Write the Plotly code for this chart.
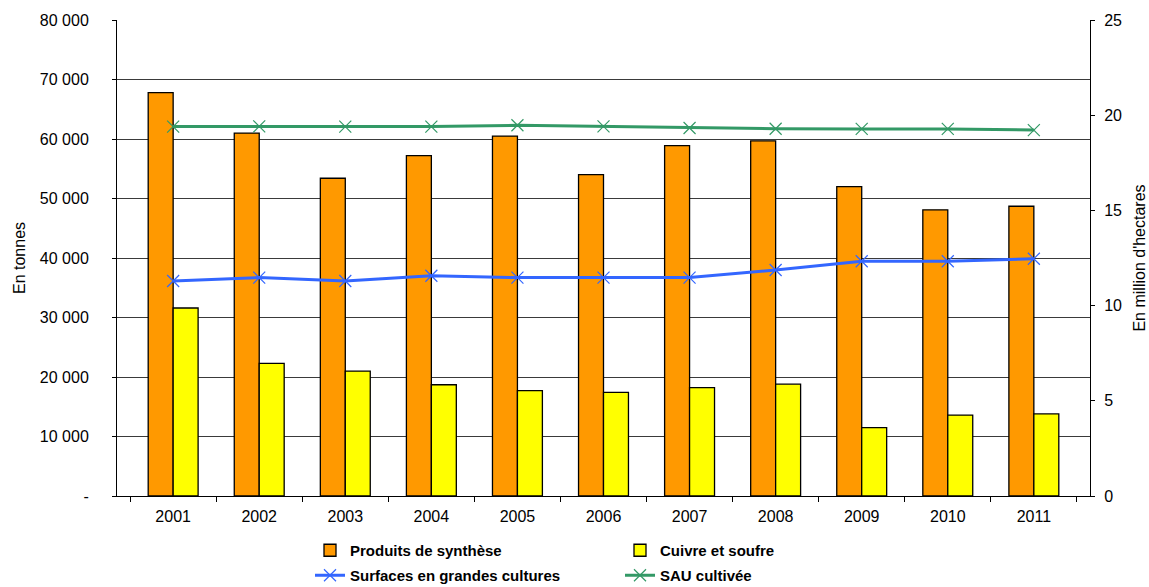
import plotly.graph_objects as go

years = ["2001", "2002", "2003", "2004", "2005", "2006", "2007", "2008", "2009", "2010", "2011"]
produits_synthese = [67800, 61000, 53400, 57200, 60500, 54000, 58900, 59700, 52000, 48100, 48700]
cuivre_soufre = [31600, 22300, 21000, 18700, 17700, 17400, 18200, 18800, 11500, 13600, 13800]
surfaces_grandes_cultures = [11.29, 11.47, 11.29, 11.57, 11.47, 11.47, 11.47, 11.87, 12.33, 12.33, 12.46]
sau_cultivee = [19.40, 19.41, 19.40, 19.40, 19.47, 19.41, 19.33, 19.29, 19.28, 19.28, 19.22]

left_tickvals = [0, 10000, 20000, 30000, 40000, 50000, 60000, 70000, 80000]
left_ticktext = ["-", "10 000", "20 000", "30 000", "40 000", "50 000", "60 000", "70 000", "80 000"]
right_tickvals = [0, 5, 10, 15, 20, 25]

FONT = "Liberation Sans, Arial, sans-serif"

fig = go.Figure()
fig.add_trace(go.Bar(x=years, y=produits_synthese, name="<b>Produits de synthèse</b>",
                     marker=dict(color="#FF9900", line=dict(color="#000000", width=1.3)),
                     legend="legend"))
fig.add_trace(go.Bar(x=years, y=cuivre_soufre, name="<b>Cuivre et soufre</b>",
                     marker=dict(color="#FFFF00", line=dict(color="#000000", width=1.3)),
                     legend="legend"))
fig.add_trace(go.Scatter(x=years, y=surfaces_grandes_cultures, name="<b>Surfaces en grandes cultures</b>",
                         yaxis="y2", mode="lines+markers",
                         line=dict(color="#3366FF", width=3),
                         marker=dict(symbol="x-thin", size=12, line=dict(color="#3366FF", width=1.2)),
                         legend="legend2"))
fig.add_trace(go.Scatter(x=years, y=sau_cultivee, name="<b>SAU cultivée</b>",
                         yaxis="y2", mode="lines+markers",
                         line=dict(color="#339966", width=3),
                         marker=dict(symbol="x-thin", size=12, line=dict(color="#339966", width=1.2)),
                         legend="legend2"))

leg_common = dict(orientation="h", xref="container", yref="container",
                  xanchor="left", yanchor="top",
                  entrywidth=265, entrywidthmode="pixels", font=dict(size=15),
                  itemwidth=30, tracegroupgap=0, bgcolor="rgba(0,0,0,0)")

fig.update_layout(
    width=1149, height=587,
    margin=dict(l=117, r=59, t=20, b=91, autoexpand=False),
    paper_bgcolor="white", plot_bgcolor="white",
    font=dict(family=FONT, size=16, color="#000000"),
    barmode="group", bargap=0.42, bargroupgap=0,
    xaxis=dict(type="category", showline=True, linecolor="#000000", linewidth=1,
               ticks="outside", tickson="boundaries", ticklen=5, tickcolor="#000000",
               showgrid=False, tickfont=dict(size=16), ticklabelstandoff=6),
    yaxis=dict(range=[0, 80000], tickvals=left_tickvals, ticktext=left_ticktext,
               showline=True, linecolor="#000000", linewidth=1,
               ticks="outside", ticklen=4, tickcolor="#000000",
               showgrid=True, gridcolor="#3a3a3a", gridwidth=1, zeroline=False,
               tickfont=dict(size=16), ticklabelstandoff=20,
               title=dict(text="En tonnes", font=dict(size=16), standoff=10)),
    yaxis2=dict(range=[0, 25], tickvals=right_tickvals, overlaying="y", side="right",
                showline=True, linecolor="#000000", linewidth=1,
                ticks="outside", ticklen=4, tickcolor="#000000",
                showgrid=False, zeroline=False, tickfont=dict(size=16), ticklabelstandoff=6,
                title=dict(text="En million d'hectares", font=dict(size=16), standoff=12)),
    legend=dict(x=310 / 1149, y=1 - 534 / 587, **leg_common),
    legend2=dict(x=310 / 1149, y=1 - 559 / 587, **leg_common),
)

fig.write_html("out.html")
